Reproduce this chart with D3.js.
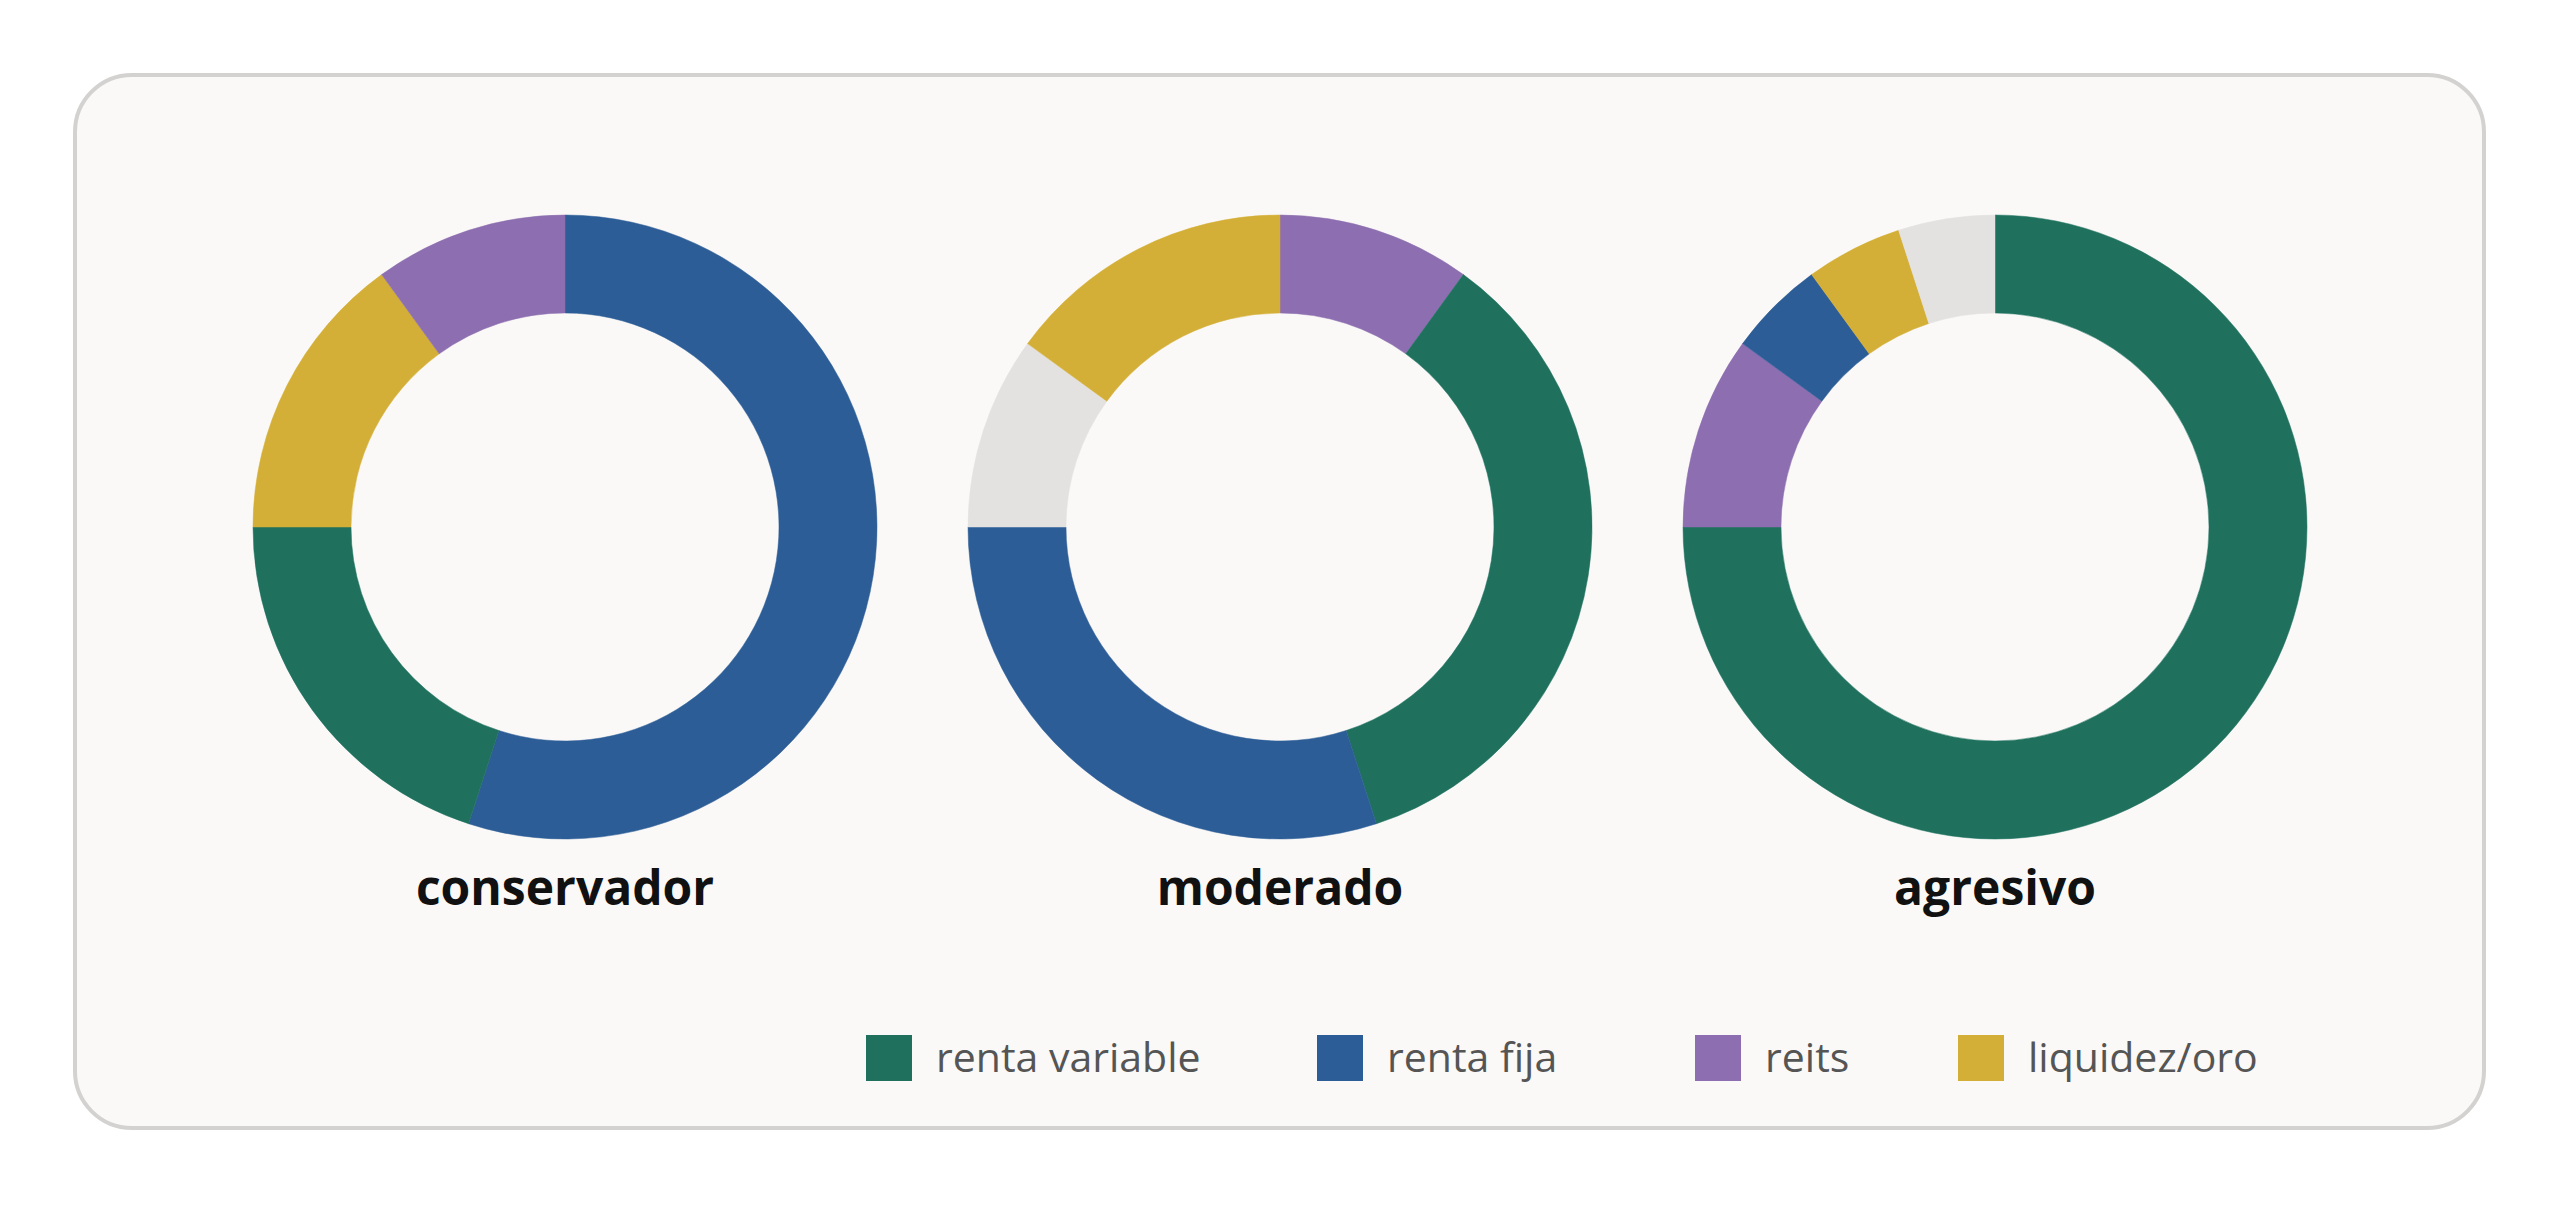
<!DOCTYPE html>
<html>
<head>
<meta charset="utf-8">
<script src="https://cdn.jsdelivr.net/npm/d3@7"></script>
<style>
    html, body { margin: 0; padding: 0; background: #ffffff; }
    svg { display: block; }
</style>
</head>
<body>
<svg id="chart" width="2560" height="1205"></svg>
<script>
// profiles and allocation (percent), in the order each ring is drawn from 12 o'clock
var profiles = ["conservador", "moderado", "agresivo"];
var legendItems = ["renta variable", "renta fija", "reits", "liquidez/oro"];

var conservadorCats = ["renta fija", "renta variable", "liquidez/oro", "reits"];
var conservadorVals = [55, 20, 15, 10];

var moderadoCats = ["reits", "renta variable", "renta fija", "otros", "liquidez/oro"];
var moderadoVals = [10, 35, 30, 10, 15];

var agresivoCats = ["renta variable", "reits", "renta fija", "liquidez/oro", "otros"];
var agresivoVals = [75, 10, 5, 5, 5];

var allCats = ["renta variable", "renta fija", "reits", "liquidez/oro", "otros"];
var palette = ["#1f715e", "#2c5d96", "#8d6eb0", "#d4af37", "#e3e2e0"];

var slicesByProfile = {
    conservador: conservadorCats.map((c, i) => ({ cat: c, value: conservadorVals[i] })),
    moderado: moderadoCats.map((c, i) => ({ cat: c, value: moderadoVals[i] })),
    agresivo: agresivoCats.map((c, i) => ({ cat: c, value: agresivoVals[i] }))
};

var color = d3.scaleOrdinal().domain(allCats).range(palette);

var svg = d3.select("#chart");

// card
svg.append("rect")
    .attr("x", 75)
    .attr("y", 75)
    .attr("width", 2409)
    .attr("height", 1053)
    .attr("rx", 57)
    .attr("fill", "#faf9f7")
    .attr("stroke", "#d3d2d0")
    .attr("stroke-width", 4);

var x = d3.scalePoint().domain(profiles).range([565, 1995]);
var cy = 527;

var pie = d3.pie().sort(null).value(d => d.value);
var arc = d3.arc().innerRadius(214).outerRadius(312);

var donuts = svg.selectAll("g.donut")
    .data(profiles)
    .join("g")
    .attr("class", "donut")
    .attr("transform", d => "translate(" + x(d) + "," + cy + ")");

donuts.selectAll("path")
    .data(d => pie(slicesByProfile[d]))
    .join("path")
    .attr("d", arc)
    .attr("fill", d => color(d.data.cat))
    .attr("stroke", d => color(d.data.cat))
    .attr("stroke-width", 0.5);

donuts.append("text")
    .attr("x", 0)
    .attr("y", 905 - cy)
    .attr("text-anchor", "middle")
    .attr("font-family", "'Open Sans', sans-serif")
    .attr("font-weight", 700)
    .attr("font-size", 48)
    .attr("fill", "#111111")
    .text(d => d);

// legend (left edge of each swatch, as laid out in the original)
var legendX = d3.scaleOrdinal().domain(legendItems).range([866, 1317, 1695, 1958]);

var legend = svg.append("g")
    .attr("class", "legend")
    .selectAll("g")
    .data(legendItems)
    .join("g")
    .attr("transform", d => "translate(" + legendX(d) + ",1035)");

legend.append("rect")
    .attr("width", 46)
    .attr("height", 46)
    .attr("fill", d => color(d));

legend.append("text")
    .attr("x", 70)
    .attr("y", 37)
    .attr("font-family", "'Open Sans', sans-serif")
    .attr("font-size", 41)
    .attr("fill", "#555555")
    .text(d => d);
</script>
</body>
</html>
